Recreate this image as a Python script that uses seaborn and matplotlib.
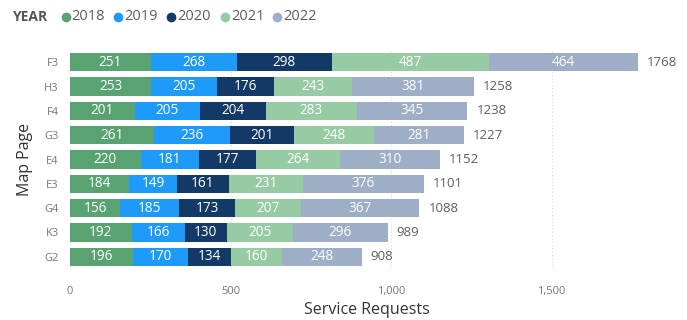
import matplotlib
matplotlib.use("Agg")
import matplotlib.pyplot as plt
from matplotlib.lines import Line2D
import seaborn as sns
import numpy as np
import pandas as pd

pages = ["F3", "H3", "F4", "G3", "E4", "E3", "G4", "K3", "G2"]
years = ["2018", "2019", "2020", "2021", "2022"]
v2018 = [251, 253, 201, 261, 220, 184, 156, 192, 196]
v2019 = [268, 205, 205, 236, 181, 149, 185, 166, 170]
v2020 = [298, 176, 204, 201, 177, 161, 173, 130, 134]
v2021 = [487, 243, 283, 248, 264, 231, 207, 205, 160]
v2022 = [464, 381, 345, 281, 310, 376, 367, 296, 248]
totals = [1768, 1258, 1238, 1227, 1152, 1101, 1088, 989, 908]
xticks = [0, 500, 1000, 1500]
xtick_labels = ["0", "500", "1,000", "1,500"]
colors = ["#58A371", "#1E9BFA", "#133A66", "#97CBA3", "#9DAEC6"]

sns.set_theme(style="white")
plt.rcParams["font.family"] = ["Open Sans", "DejaVu Sans"]

series = [v2018, v2019, v2020, v2021, v2022]
cum = np.cumsum(np.array(series), axis=0)
df = pd.DataFrame({"page": pages})
for i, y in enumerate(years):
    df["cum" + y] = cum[i]

fig = plt.figure(figsize=(6.87, 3.2), dpi=100)
ax = fig.add_axes([70 / 687, 1 - 269 / 320, (664 - 70) / 687, (269 - 50) / 320])

for i in range(len(years) - 1, -1, -1):
    sns.barplot(data=df, x="cum" + years[i], y="page", order=pages, color=colors[i],
                saturation=1, width=0.74, orient="h", ax=ax, linewidth=0)

for j, p in enumerate(pages):
    start = 0
    for i, y in enumerate(years):
        v = series[i][j]
        ax.text(start + v / 2, j, str(v), ha="center", va="center", color="white",
                fontsize=9.8)
        start += v
    ax.text(totals[j] + 28, j, str(totals[j]), ha="left", va="center",
            color="#605E5C", fontsize=9.5)

ax.set_xlim(0, 1850)
ax.set_ylim(8.5, -0.5)
ax.set_xticks(xticks)
ax.set_xticklabels(xtick_labels, color="#777777", fontsize=8)
ax.tick_params(axis="y", labelcolor="#777777", labelsize=8, length=0, pad=8)
ax.tick_params(axis="x", length=0, pad=12)
for x in xticks[1:]:
    ax.axvline(x, color="#D8D8D8", linestyle=(0, (1, 2)), linewidth=0.8, zorder=0)
for s in ax.spines.values():
    s.set_visible(False)
ax.set_xlabel("Service Requests", color="#333333", fontsize=11.5, labelpad=4)
ax.set_ylabel("Map Page", color="#333333", fontsize=11.5, labelpad=8)
ax.set_axisbelow(True)

# legend
ly = 1 - 17 / 320
fig.text(12 / 687, ly, "YEAR", fontsize=10, fontweight="bold",
         color="#555555", va="center", ha="left")
xpos = [65.5, 118, 171, 225, 277]
for x, y, c in zip(xpos, years, colors):
    fig.add_artist(Line2D([x / 687], [ly], marker="o", markersize=7, color=c,
                          markeredgewidth=0, linestyle="none", transform=fig.transFigure))
    fig.text((x + 6) / 687, ly, y, fontsize=10.5, color="#605E5C",
             va="center", ha="left")

fig.savefig("out.png", dpi=100)
